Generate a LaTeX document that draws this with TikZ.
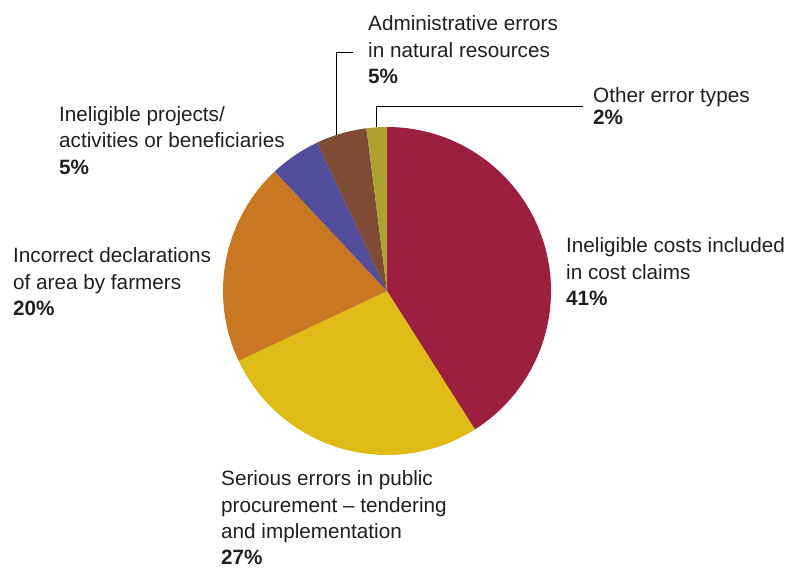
\documentclass[tikz,border=0pt]{standalone}
\usepackage{fontspec}
\setmainfont{Liberation Sans}
\definecolor{cRed}{HTML}{9C1F3F}
\definecolor{cYellow}{HTML}{DFBB15}
\definecolor{cOrange}{HTML}{C87820}
\definecolor{cBlue}{HTML}{524E9C}
\definecolor{cBrown}{HTML}{7E4B34}
\definecolor{cOlive}{HTML}{ADA12F}
\definecolor{cText}{HTML}{231F20}
\tikzset{
  lbl/.style={anchor=base west, inner sep=0pt, text=cText, font=\fontsize{20.7}{26.3}\selectfont},
  lblt/.style={anchor=base west, inner sep=0pt, text=cText, font=\fontsize{20.7}{22.5}\selectfont},
  leader/.style={draw=black, line width=0.8pt},
}
\newcommand{\slice}[3]{\fill[#3] (c) -- ([shift={(#1:164)}]c) arc[start angle=#1, end angle=#2, radius=164] -- cycle;}
\begin{document}
\begin{tikzpicture}[x=1pt,y=1pt]
\useasboundingbox (0,0) rectangle (787,568);
\coordinate (c) at (387,277);
\slice{90}{-57.6}{cRed}
\slice{-57.6}{-154.8}{cYellow}
\slice{-154.8}{-226.8}{cOrange}
\slice{-226.8}{-244.8}{cBlue}
\slice{-244.8}{-262.8}{cBrown}
\slice{-262.8}{-270}{cOlive}
% labels
\node[lbl] (adm) at (368,537) {\begin{tabular}[t]{@{}l@{}}Administrative errors\\in natural resources\\\textbf{5\%}\end{tabular}};
\node[lblt] (oth) at (593,465.5) {\begin{tabular}[t]{@{}l@{}}Other error types\\\textbf{2\%}\end{tabular}};
\node[lbl] (inp) at (59,446.3) {\begin{tabular}[t]{@{}l@{}}Ineligible projects/\\activities or beneficiaries\\\textbf{5\%}\end{tabular}};
\node[lbl] (inc) at (13,305) {\begin{tabular}[t]{@{}l@{}}Incorrect declarations\\of area by farmers\\\textbf{20\%}\end{tabular}};
\node[lbl] (ine) at (566,315) {\begin{tabular}[t]{@{}l@{}}Ineligible costs included\\in cost claims\\\textbf{41\%}\end{tabular}};
\node[lbl] (ser) at (221,82.3) {\begin{tabular}[t]{@{}l@{}}Serious errors in public\\procurement -- tendering\\and implementation\\\textbf{27\%}\end{tabular}};
% leaders
\coordinate (admpt) at ([shift={(108.1:164)}]c);
\coordinate (admend) at (353,516);
\coordinate (othpt) at ([shift={(93.6:164)}]c);
\coordinate (othend) at (583,462);
\draw[leader] (admpt) |- (admend);
\draw[leader] (othpt) |- (othend);
\end{tikzpicture}
\end{document}
